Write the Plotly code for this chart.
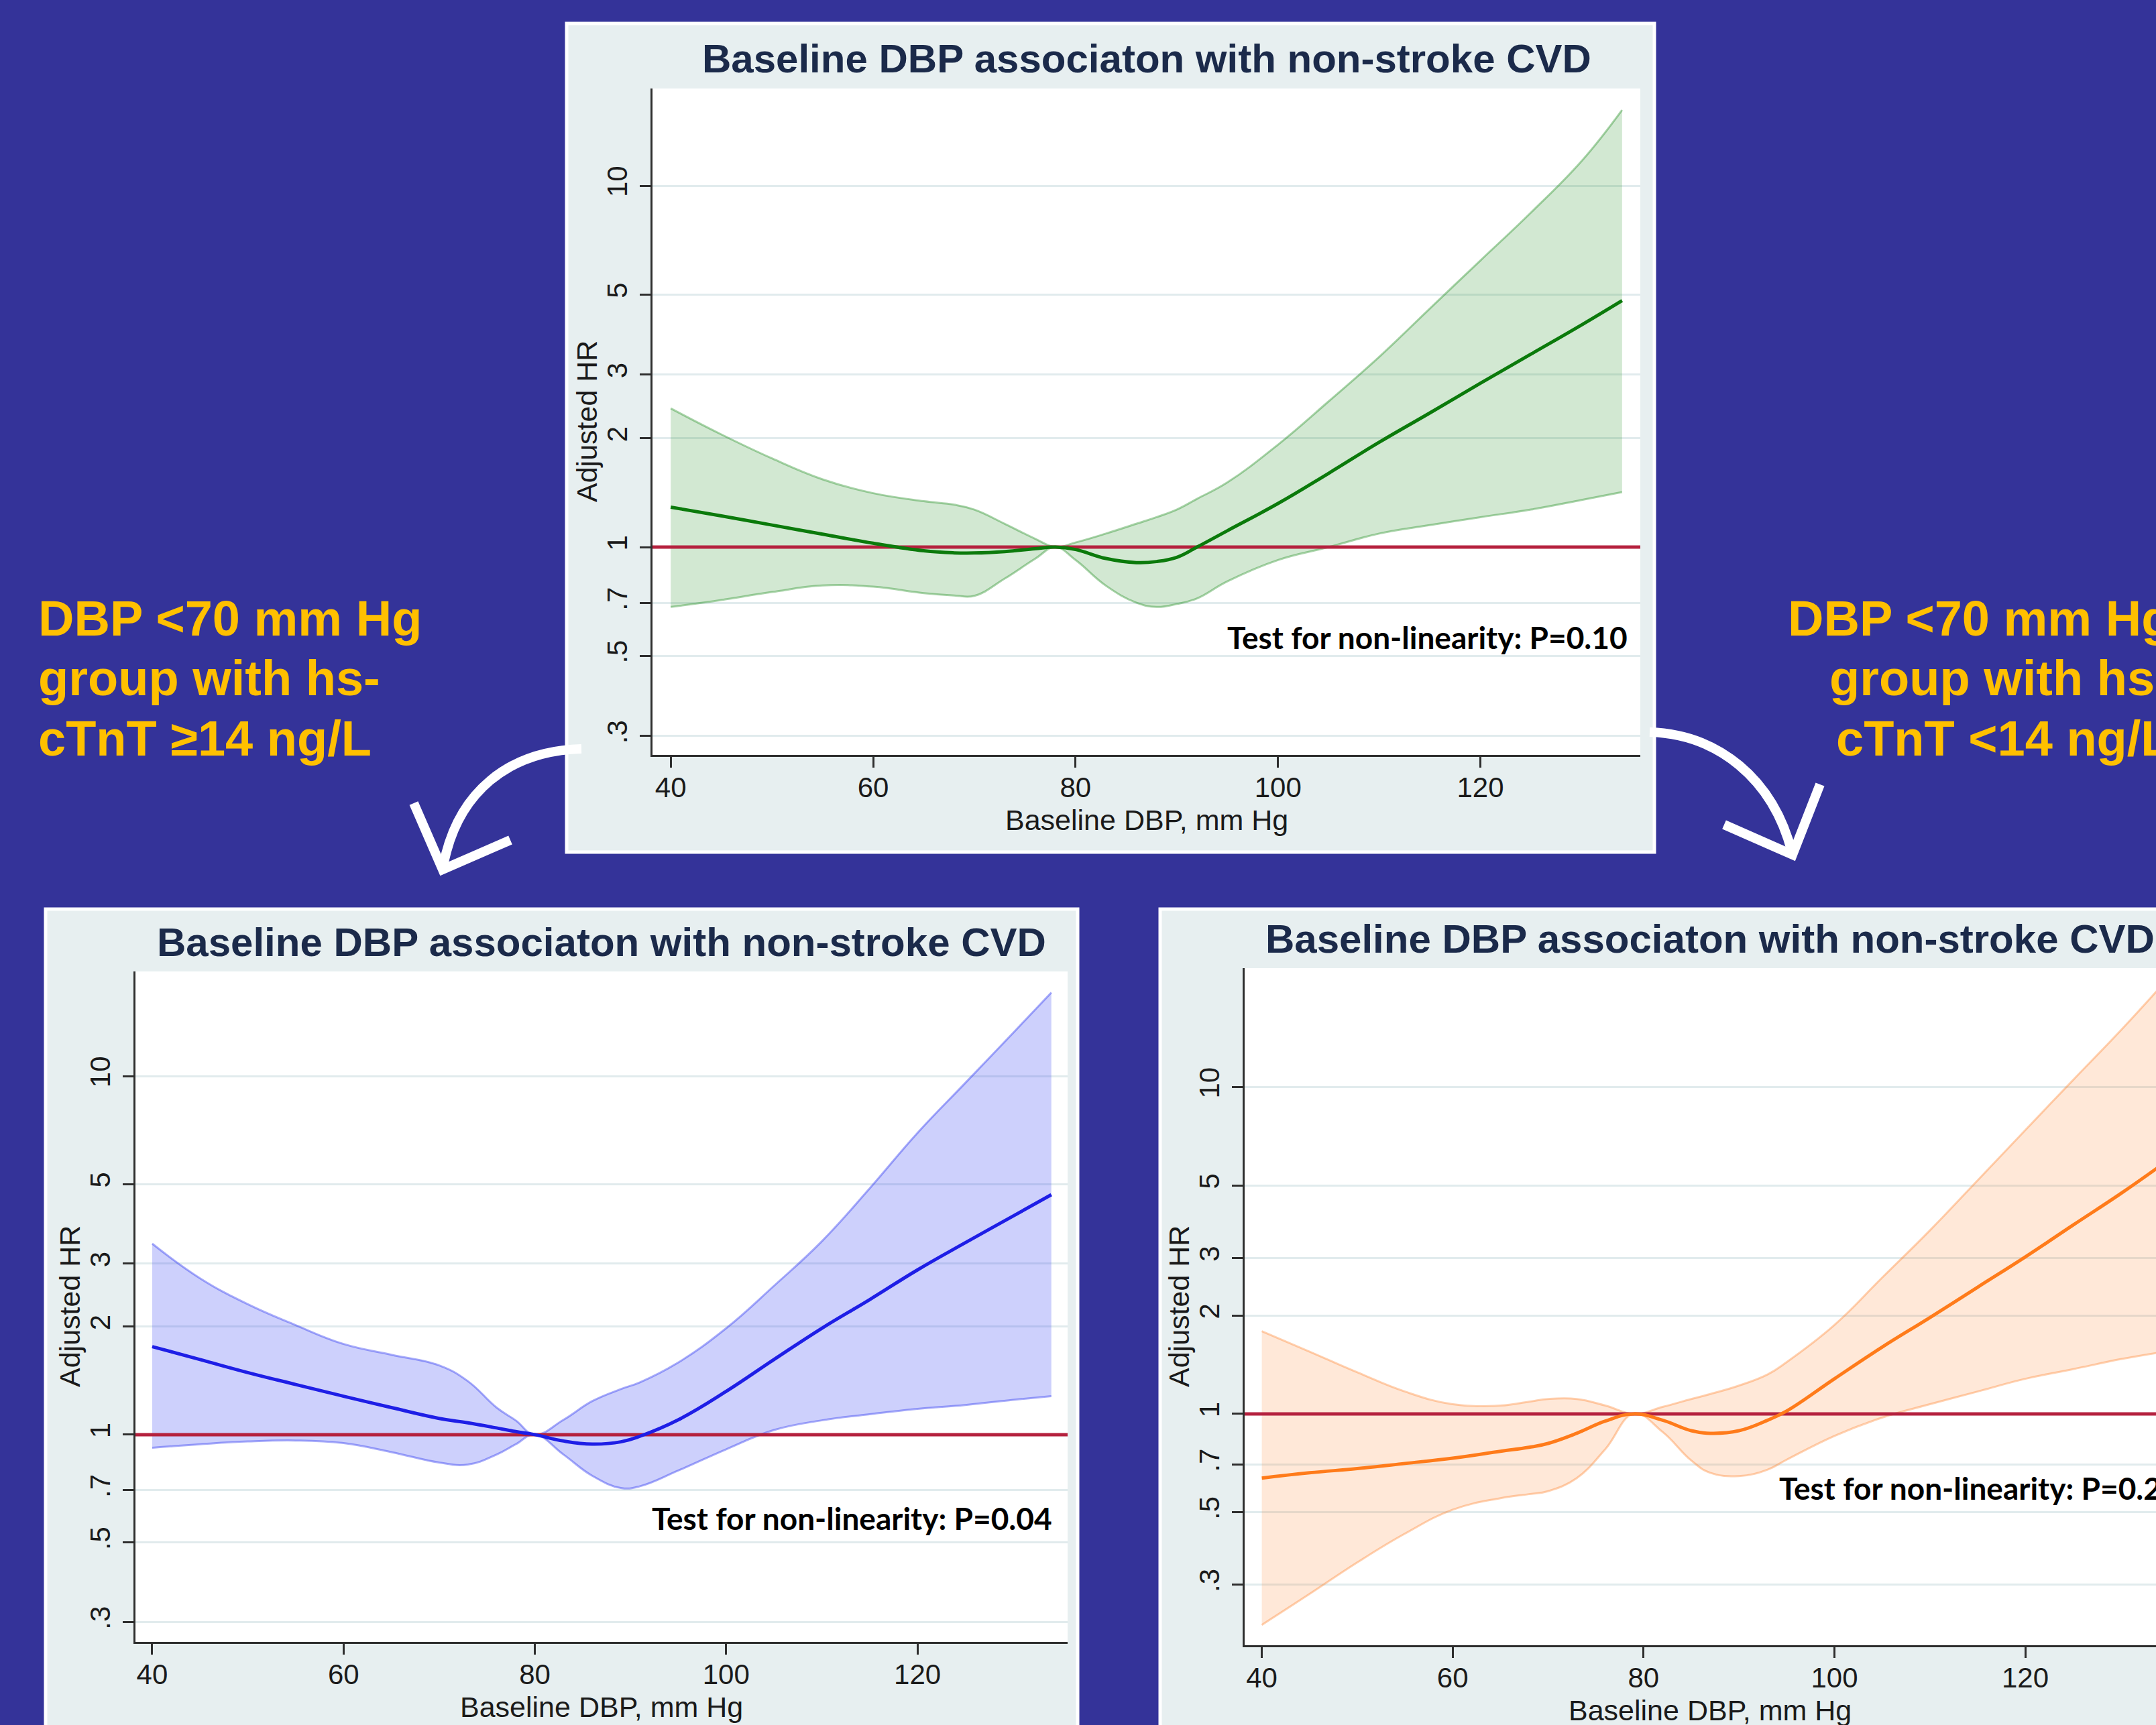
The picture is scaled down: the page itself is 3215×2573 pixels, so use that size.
import math
import plotly.graph_objects as go

W, H = 3215, 2573

# ---------------- data ----------------
# Top panel: all participants (green)
top_x = [40, 45, 50, 55, 60, 65, 68, 70, 73, 76, 78, 80, 83, 86, 88, 90, 92, 95,
         100, 105, 110, 115, 120, 125, 130, 134]
top_hr = [1.29, 1.22, 1.151, 1.086, 1.025, 0.977, 0.964, 0.963, 0.972, 0.99, 1.0, 0.985,
          0.93, 0.906, 0.912, 0.937, 1.0, 1.11, 1.32, 1.6, 1.95, 2.35, 2.84, 3.42, 4.12, 4.81]
top_hi = [2.42, 2.05, 1.76, 1.54, 1.41, 1.34, 1.31, 1.27, 1.16, 1.055, 1.0, 1.03,
          1.09, 1.16, 1.21, 1.27, 1.36, 1.51, 1.92, 2.53, 3.36, 4.57, 6.21, 8.43, 11.7, 16.2]
top_lo = [0.683, 0.714, 0.751, 0.783, 0.777, 0.746, 0.735, 0.733, 0.818, 0.928, 1.0, 0.921,
          0.782, 0.702, 0.683, 0.696, 0.721, 0.804, 0.921, 1.0, 1.09, 1.15, 1.21, 1.27, 1.35, 1.42]

# Bottom-left panel: hs-cTnT >= 14 ng/L (blue)
bl_x = [40, 45, 50, 55, 60, 65, 70, 73, 76, 78, 80, 83, 86, 89, 91, 95,
        100, 105, 110, 115, 120, 125, 130, 134]
bl_hr = [1.76, 1.62, 1.49, 1.38, 1.28, 1.19, 1.11, 1.079, 1.044, 1.02, 1.0, 0.96,
         0.941, 0.955, 0.99, 1.10, 1.32, 1.62, 1.98, 2.38, 2.88, 3.43, 4.07, 4.67]
bl_hi = [3.41, 2.73, 2.31, 2.02, 1.79, 1.67, 1.56, 1.41, 1.19, 1.096, 1.0, 1.10,
         1.24, 1.34, 1.40, 1.59, 1.98, 2.60, 3.46, 4.86, 6.94, 9.57, 13.2, 17.1]
bl_lo = [0.919, 0.94, 0.957, 0.963, 0.947, 0.894, 0.836, 0.825, 0.88, 0.94, 1.0, 0.88,
         0.768, 0.71, 0.718, 0.794, 0.91, 1.03, 1.096, 1.14, 1.18, 1.21, 1.25, 1.28]

# Bottom-right panel: hs-cTnT < 14 ng/L (orange)
br_x = [40, 45, 50, 55, 60, 65, 68, 70, 73, 76, 79, 82, 85, 87, 90, 93, 95,
        100, 105, 110, 115, 120, 125, 130, 134]
br_hr = [0.636, 0.66, 0.68, 0.705, 0.732, 0.768, 0.79, 0.812, 0.872, 0.95, 1.0, 0.956, 0.888,
         0.872, 0.888, 0.956, 1.02, 1.28, 1.6, 1.97, 2.44, 3.02, 3.78, 4.72, 5.7]
br_hi = [1.79, 1.55, 1.34, 1.17, 1.07, 1.06, 1.09, 1.11, 1.11, 1.06, 1.0, 1.05, 1.11,
         1.15, 1.22, 1.32, 1.44, 1.87, 2.61, 3.64, 5.18, 7.38, 10.5, 14.9, 20.0]
br_lo = [0.226, 0.281, 0.351, 0.43, 0.509, 0.552, 0.568, 0.58, 0.636, 0.78, 1.0, 0.88, 0.72,
         0.66, 0.645, 0.675, 0.724, 0.856, 0.974, 1.07, 1.17, 1.28, 1.37, 1.47, 1.54]

ref_hr = 1.0
x_ticks = [40, 60, 80, 100, 120]
y_ticks = [0.3, 0.5, 0.7, 1, 2, 3, 5, 10]
y_tick_text = [".3", ".5", ".7", "1", "2", "3", "5", "10"]

title_text = "Baseline DBP associaton with non-stroke CVD"
x_title = "Baseline DBP, mm Hg"
y_title = "Adjusted HR"
p_texts = ["Test for non-linearity: P=0.10", "Test for non-linearity: P=0.04",
           "Test for non-linearity: P=0.24"]
left_lines = ["DBP <70 mm Hg", "group with hs-", "cTnT \u226514 ng/L"]
right_lines = ["DBP <70 mm Hg", "group with hs-", "cTnT <14 ng/L"]

# ---------------- styling ----------------
BG = "#343399"
PANEL = "#E7EFF0"
GRID = "#E1EBED"
AXIS = "#2e2e2e"
REF = "#B5213E"
YELLOW = "#FFC000"
TITLE_COL = "#1B2A4A"
FONT = "Liberation Sans"
SMOOTH = 1.2


def px(x):
    return x / W


def py(y):
    return 1 - y / H


panels = [
    dict(x=top_x, hr=top_hr, lo=top_lo, hi=top_hi, line="#0B7A0B",
         fill="rgba(30,140,30,0.20)", edge="rgba(30,140,30,0.38)",
         box=(973, 132, 2446, 1126), xr=[38.2, 135.8], yr=[-0.575, 1.269],
         panel=(845, 35, 2467, 1271), ptxt=p_texts[0], pt_x=134.7, pt_y=0.564,
         pt_anchor="right", title_y=88, cx=1710),
    dict(x=bl_x, hr=bl_hr, lo=bl_lo, hi=bl_hi, line="#1E1EE6",
         fill="rgba(40,50,240,0.23)", edge="rgba(40,50,240,0.40)",
         box=(202, 1449, 1592, 2449), xr=[38.25, 135.7], yr=[-0.578, 1.292],
         panel=(68, 1356, 1607, 2590), ptxt=p_texts[1], pt_x=134.2, pt_y=0.586,
         pt_anchor="right", title_y=1405, cx=897),
    dict(x=br_x, hr=br_hr, lo=br_lo, hi=br_hi, line="#FF7B1A",
         fill="rgba(255,128,40,0.18)", edge="rgba(255,128,40,0.36)",
         box=(1856, 1444, 3215, 2454), xr=[38.2, 133.7], yr=[-0.708, 1.364],
         panel=(1730, 1356, 3240, 2590), ptxt=p_texts[2], pt_x=94.1, pt_y=0.594,
         pt_anchor="left", title_y=1400, cx=2550),
]

fig = go.Figure()
shapes = []
annotations = []

for i, p in enumerate(panels):
    sfx = "" if i == 0 else str(i + 1)
    xa, ya = "x" + sfx, "y" + sfx
    l, t, r, b = p["box"]
    pl, pt, pr, pb = p["panel"]
    # panel background and white plot region
    shapes.append(dict(type="rect", xref="paper", yref="paper", layer="below",
                       x0=px(pl), x1=px(pr), y0=py(pb), y1=py(pt),
                       fillcolor=PANEL, line=dict(color="white", width=5)))
    shapes.append(dict(type="rect", xref="paper", yref="paper", layer="below",
                       x0=px(l), x1=px(r), y0=py(b), y1=py(t),
                       fillcolor="white", line=dict(width=0)))
    # CI band
    fig.add_trace(go.Scatter(x=p["x"], y=p["lo"], mode="lines", xaxis=xa, yaxis=ya,
                             line=dict(color=p["edge"], width=3, shape="spline", smoothing=SMOOTH),
                             showlegend=False, hoverinfo="skip"))
    fig.add_trace(go.Scatter(x=p["x"], y=p["hi"], mode="lines", xaxis=xa, yaxis=ya,
                             line=dict(color=p["edge"], width=3, shape="spline", smoothing=SMOOTH),
                             fill="tonexty", fillcolor=p["fill"],
                             showlegend=False, hoverinfo="skip"))
    # reference line HR = 1
    fig.add_trace(go.Scatter(x=p["xr"], y=[ref_hr, ref_hr], mode="lines", xaxis=xa, yaxis=ya,
                             line=dict(color=REF, width=5), showlegend=False, hoverinfo="skip"))
    # estimate
    fig.add_trace(go.Scatter(x=p["x"], y=p["hr"], mode="lines", xaxis=xa, yaxis=ya,
                             line=dict(color=p["line"], width=5, shape="spline", smoothing=SMOOTH),
                             showlegend=False))

    axis_common = dict(showline=True, linecolor=AXIS, linewidth=3, ticks="outside",
                       ticklen=16, tickwidth=3, tickcolor=AXIS, zeroline=False,
                       tickfont=dict(family=FONT, size=42, color="#1a1a1a"))
    fig.update_layout(**{
        ("xaxis" + sfx): dict(domain=[px(l), px(r)], range=p["xr"], tickvals=x_ticks,
                              showgrid=False, anchor=ya, ticklabelstandoff=-6, **axis_common),
        ("yaxis" + sfx): dict(domain=[py(b), py(t)], type="log", range=p["yr"],
                              tickvals=y_ticks, ticktext=y_tick_text, tickangle=-90,
                              showgrid=True, gridcolor=GRID, gridwidth=3, anchor=xa,
                              ticklabelstandoff=2, **axis_common),
    })

    cx = p["cx"]
    # panel title
    annotations.append(dict(xref="paper", yref="paper", x=px(cx), y=py(p["title_y"]),
                            text="<b>" + title_text + "</b>", showarrow=False,
                            xanchor="center", yanchor="middle",
                            font=dict(family=FONT, size=60, color=TITLE_COL)))
    # axis titles
    annotations.append(dict(xref="paper", yref="paper", x=px(cx), y=py(b + 97),
                            text=x_title, showarrow=False, xanchor="center", yanchor="middle",
                            font=dict(family=FONT, size=43, color="#1a1a1a")))
    annotations.append(dict(xref="paper", yref="paper", x=px(l - 98), y=py((t + b) / 2),
                            text=y_title, showarrow=False, textangle=-90,
                            xanchor="center", yanchor="middle",
                            font=dict(family=FONT, size=43, color="#1a1a1a")))
    # non-linearity test
    annotations.append(dict(xref=xa, yref=ya, x=p["pt_x"], y=math.log10(p["pt_y"]),
                            text="<b>" + p["ptxt"] + "</b>", showarrow=False,
                            xanchor=p["pt_anchor"], yanchor="middle",
                            font=dict(family="Lato", size=46, color="black")))

# yellow group labels
for ln, base in zip(left_lines, [948, 1038, 1127]):
    annotations.append(dict(xref="paper", yref="paper", x=px(55), y=py(base - 26),
                            text="<b>" + ln + "</b>", showarrow=False,
                            xanchor="left", yanchor="middle",
                            font=dict(family=FONT, size=74, color=YELLOW)))
for ln, base in zip(right_lines, [948, 1038, 1127]):
    annotations.append(dict(xref="paper", yref="paper", x=px(3240), y=py(base - 26),
                            text="<b>" + ln + "</b>", showarrow=False,
                            xanchor="right", yanchor="middle",
                            font=dict(family=FONT, size=74, color=YELLOW)))


# white arrows (decoration)
def pth(cmds):
    out = []
    for c in cmds:
        if isinstance(c, str):
            out.append(c)
        else:
            out.append(f"{px(c[0]):.5f},{py(c[1]):.5f}")
    return " ".join(out)


arrow_line = dict(color="white", width=14)
shapes.append(dict(type="path", xref="paper", yref="paper", layer="above",
                   path=pth(["M", (867, 1117), "C", (760, 1120), (680, 1180), (660, 1297)]),
                   line=arrow_line))
shapes.append(dict(type="path", xref="paper", yref="paper", layer="above",
                   path=pth(["M", (617, 1198), "L", (660, 1297), "L", (761, 1253)]),
                   line=arrow_line))
shapes.append(dict(type="path", xref="paper", yref="paper", layer="above",
                   path=pth(["M", (2460, 1092), "C", (2560, 1095), (2645, 1160), (2673, 1275)]),
                   line=arrow_line))
shapes.append(dict(type="path", xref="paper", yref="paper", layer="above",
                   path=pth(["M", (2571, 1230), "L", (2673, 1275), "L", (2714, 1170)]),
                   line=arrow_line))

fig.update_layout(width=W, height=H, margin=dict(l=0, r=0, t=0, b=0, pad=0),
                  paper_bgcolor=BG, plot_bgcolor="white", showlegend=False,
                  shapes=shapes, annotations=annotations)

fig.write_html("out.html", config={"displayModeBar": False},
               post_script="document.body.style.margin='0';"
                           "document.body.style.background='" + BG + "';")
